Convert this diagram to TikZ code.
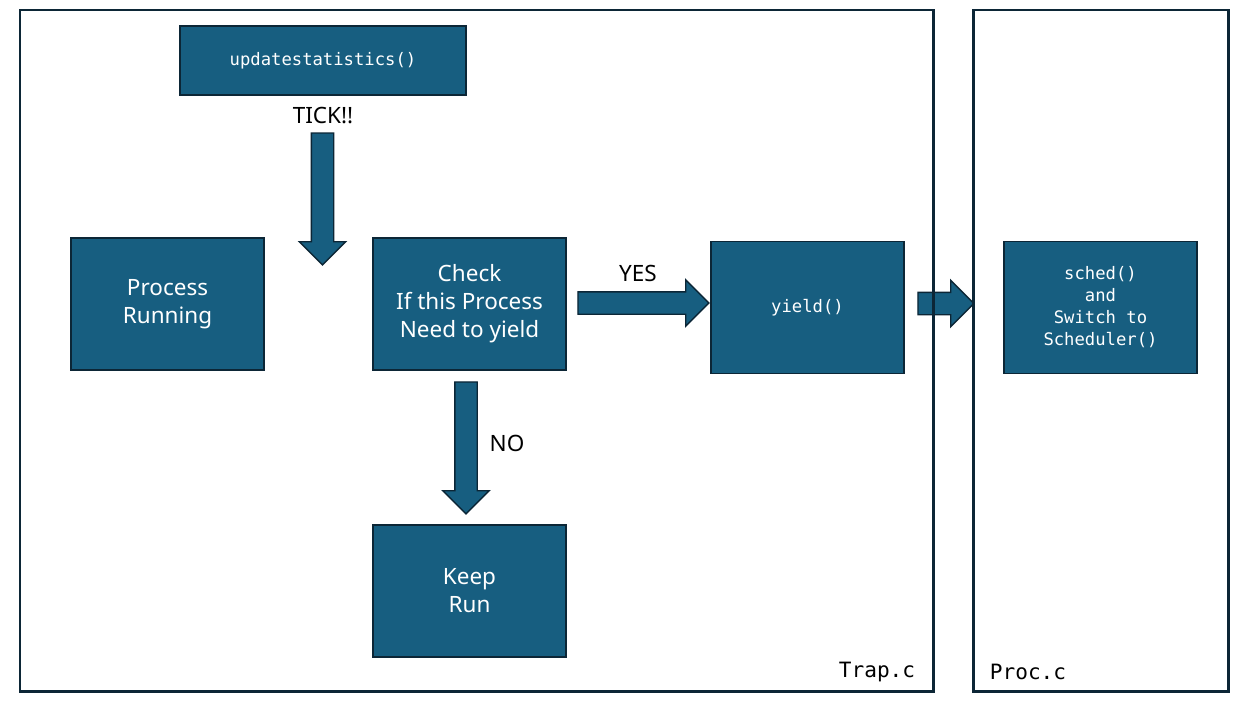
\documentclass[tikz,border=0pt]{standalone}
\usepackage{fontspec}
\setmainfont{Noto Sans}
\setmonofont{DejaVu Sans Mono}
\usetikzlibrary{shapes.arrows,positioning}
\definecolor{boxblue}{RGB}{23,94,128}
\definecolor{boxline}{RGB}{12,38,54}
\tikzset{
  box/.style={draw=boxline, line width=1.1pt, fill=boxblue, text=white, minimum width=3.86cm,
    minimum height=2.64cm, align=center, inner sep=0pt, font=\fontsize{12.8}{16}\selectfont},
  codebox/.style={box, font=\ttfamily\fontsize{9.8}{12.5}\selectfont},
  frame/.style={draw=boxline, line width=1.7pt},
  blockarrow/.style={single arrow, draw=boxline, line width=0.8pt, fill=boxblue, inner xsep=0pt,
    inner ysep=0.21cm, single arrow head extend=0.24cm, outer sep=0pt, minimum height=#1},
  blockarrow/.default=2.64cm,
  downarrow/.style={blockarrow=#1, shape border rotate=270, inner xsep=0.21cm, inner ysep=0pt},
  downarrow/.default=2.64cm,
  lbl/.style={font=\fontsize{12.8}{15}\selectfont},
  filename/.style={font=\ttfamily\fontsize{12}{14}\selectfont}
}
\begin{document}
\begin{tikzpicture}[x=0.02cm,y=-0.02cm]
  \useasboundingbox (0,0) rectangle (1240,706);
  % Trap.c side
  \node[codebox, minimum width=5.72cm, minimum height=1.38cm] (upd) at (323,60.5) {updatestatistics()};
  \node[lbl] (tick) at (323,116) {TICK!!};
  \node[downarrow=2.64cm, anchor=tail] (tickarrow) at (322.5,133) {};
  \node[box] (run) at (167.5,304) {Process\\Running};
  \node[box] (check) at (469.5,304) {Check\\If this Process\\Need to yield};
  \node[blockarrow=2.62cm, anchor=tail] (yesarrow) at ([xshift=0.22cm,yshift=0.02cm]check.east) {};
  \node[lbl] (yes) at (638,273) {YES};
  \node[codebox] (yield) at (807.5,307.5) {yield()};
  \node[downarrow=2.64cm, anchor=tail] (noarrow) at ([xshift=-0.07cm,yshift=-0.22cm]check.south) {};
  \node[lbl] (no) at (507,443) {NO};
  \node[box] (keep) at (469.5,591) {Keep\\Run};
  % Proc.c side
  \node[blockarrow=1.12cm, anchor=tail] (callarrow) at ([xshift=0.26cm,yshift=0.08cm]yield.east) {};
  \node[codebox] (sched) at (1100.5,307.5) {sched()\\and\\Switch to\\Scheduler()};
  % files
  \draw[frame] (20,10) rectangle (933,691);
  \draw[frame] (973,10) rectangle (1228,691);
  \node[filename] (trapname) at (877,672) {Trap.c};
  \node[filename] (procname) at (1028,672) {Proc.c};
\end{tikzpicture}
\end{document}
